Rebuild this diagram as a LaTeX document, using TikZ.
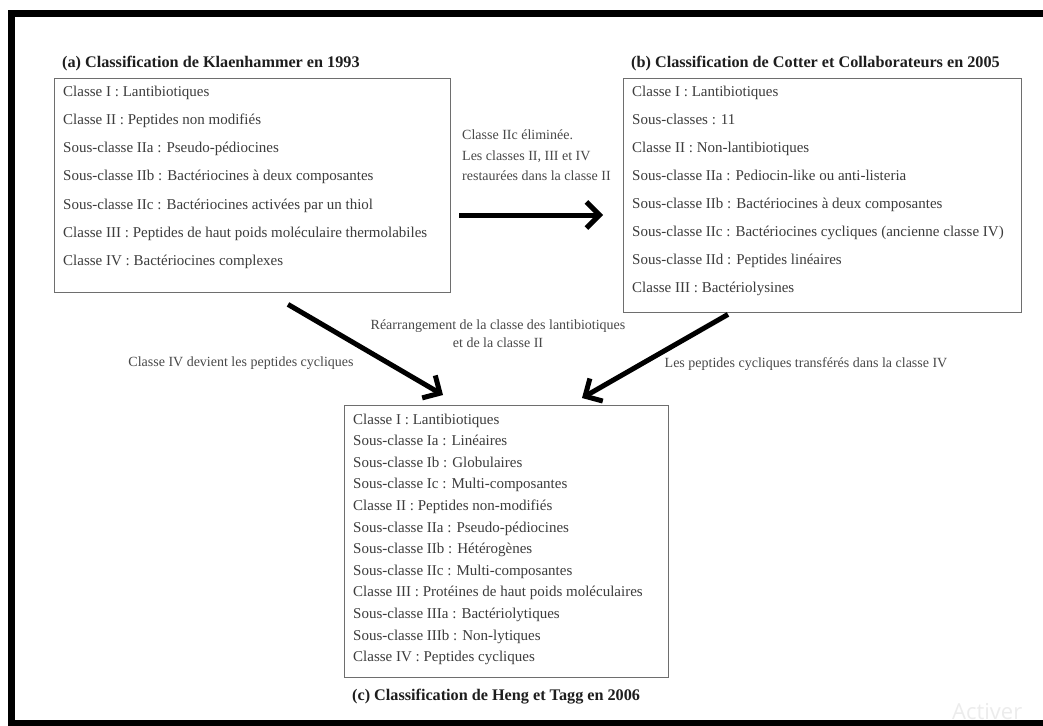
\documentclass[tikz,border=0pt]{standalone}
\usepackage{fontspec}
\setmainfont{Liberation Serif}
\newfontfamily\wmfont{Open Sans}
\usetikzlibrary{arrows.meta,calc}
\definecolor{boxline}{HTML}{6E6E6E}
\definecolor{bodytext}{HTML}{3C3C3C}
\definecolor{labeltext}{HTML}{484848}
\definecolor{titletext}{HTML}{1E1E1E}
\definecolor{wmgray}{HTML}{ECECEC}
\begin{document}
\begin{tikzpicture}[x=1pt,y=-1pt,
  panel/.style={draw=boxline,line width=1.4pt,inner sep=0pt,anchor=north west},
  entry/.style={anchor=base west,inner sep=0pt,text=bodytext,font=\fontsize{15}{16}\selectfont},
  heading/.style={anchor=base west,inner sep=0pt,text=titletext,font=\bfseries\fontsize{16.2}{18}\selectfont},
  note/.style={anchor=base,inner sep=0pt,text=labeltext,font=\fontsize{14}{15}\selectfont},
  bigarrow/.style={line width=5pt,-{Straight Barb[length=13pt 0,width=26pt 0]}}
]
\useasboundingbox (0,0) rectangle (1043,725);
\clip (0,0) rectangle (1043,725);
\fill[white] (0,0) rectangle (1043,725);

% the three classification panels
\node[panel,minimum width=396pt,minimum height=214pt] (boxa) at (54,78) {};
\node[panel,minimum width=398pt,minimum height=234pt] (boxb) at (623,78) {};
\node[panel,minimum width=324pt,minimum height=272pt] (boxc) at (344,405) {};

% headings
\node[heading] (ta) at (62,67) {(a) Classification de Klaenhammer en 1993};
\node[heading] (tb) at (631,67) {(b) Classification de Cotter et Collaborateurs en 2005};
\node[heading] (tc) at (352,700) {(c) Classification de Heng et Tagg en 2006};

% panel (a)
\foreach \t [count=\i from 0] in {
  {Classe I : Lantibiotiques},
  {Classe II : Peptides non modifiés},
  {Sous-classe IIa : Pseudo-pédiocines},
  {Sous-classe IIb : Bactériocines à deux composantes},
  {Sous-classe IIc : Bactériocines activées par un thiol},
  {Classe III : Peptides de haut poids moléculaire thermolabiles},
  {Classe IV : Bactériocines complexes}}
  \node[entry] (a\i) at (63,{96+28.3*\i}) {\t};

% panel (b)
\foreach \t [count=\i from 0] in {
  {Classe I : Lantibiotiques},
  {Sous-classes : 11},
  {Classe II : Non-lantibiotiques},
  {Sous-classe IIa : Pediocin-like ou anti-listeria},
  {Sous-classe IIb : Bactériocines à deux composantes},
  {Sous-classe IIc : Bactériocines cycliques (ancienne classe IV)},
  {Sous-classe IId : Peptides linéaires},
  {Classe III : Bactériolysines}}
  \node[entry] (b\i) at (632,{96+28.1*\i}) {\t};

% panel (c)
\foreach \t [count=\i from 0] in {
  {Classe I : Lantibiotiques},
  {Sous-classe Ia : Linéaires},
  {Sous-classe Ib : Globulaires},
  {Sous-classe Ic : Multi-composantes},
  {Classe II : Peptides non-modifiés},
  {Sous-classe IIa : Pseudo-pédiocines},
  {Sous-classe IIb : Hétérogènes},
  {Sous-classe IIc : Multi-composantes},
  {Classe III : Protéines de haut poids moléculaires},
  {Sous-classe IIIa : Bactériolytiques},
  {Sous-classe IIIb : Non-lytiques},
  {Classe IV : Peptides cycliques}}
  \node[entry] (c\i) at (353,{424+21.6*\i}) {\t};

% transitions between the classifications
\coordinate (aright) at ($(boxa.north east)+(8,137)$);
\coordinate (bleft)  at ($(boxb.north west)+(-20,137)$);
\coordinate (adown)  at ($(boxa.south west)+(234,11)$);
\coordinate (bdown)  at ($(boxb.south west)+(105,1)$);
\coordinate (cinl)   at ($(boxc.north west)+(99,-10)$);
\coordinate (cinr)   at ($(boxc.north west)+(238,-7)$);
\draw[bigarrow] (aright) -- (bleft);
\draw[bigarrow] (adown) -- (cinl);
\draw[bigarrow] (bdown) -- (cinr);

% transition labels
\node[note,anchor=base west] (n1) at (462,139) {Classe IIc éliminée.};
\node[note,anchor=base west] (n2) at (462,160) {Les classes II, III et IV};
\node[note,anchor=base west] (n3) at (462,180) {restaurées dans la classe II};
\node[note] (n4) at (498,329) {Réarrangement de la classe des lantibiotiques};
\node[note] (n5) at (498,347) {et de la classe II};
\node[note] (n6) at (241,366) {Classe IV devient les peptides cycliques};
\node[note] (n7) at (806,367) {Les peptides cycliques transférés dans la classe IV};

% faint overlay text in the corner
\node[anchor=base west,inner sep=0pt,text=wmgray,font=\wmfont\fontsize{22}{22}\selectfont] (wm) at (952,719) {Activer};

% outer frame
\draw[line width=7pt] (11.5,13.5) rectangle (1060,723.5);
\end{tikzpicture}
\end{document}
